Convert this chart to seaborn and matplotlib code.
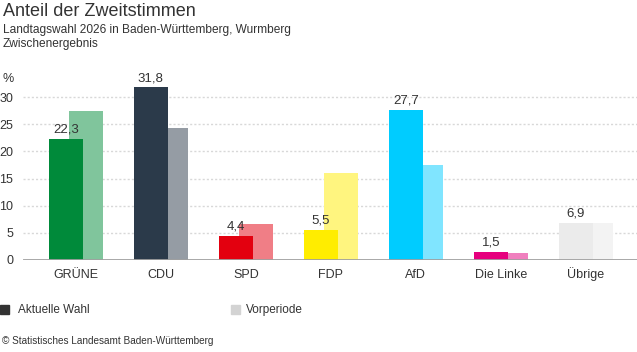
import matplotlib
matplotlib.use("Agg")
import matplotlib.pyplot as plt
import seaborn as sns
import pandas as pd

# Zweitstimmen, Wurmberg (Zwischenergebnis)
parties = ["GRÜNE", "CDU", "SPD", "FDP", "AfD", "Die Linke", "Übrige"]
current = [22.3, 31.8, 4.4, 5.5, 27.7, 1.5, 6.9]
previous = [27.4, 24.3, 6.6, 16.0, 17.5, 1.2, 6.8]

colors_current = ["#008a3a", "#2b3a4a", "#e3000f", "#ffed00", "#00ccff", "#e6007e", "#ebebeb"]
colors_previous = ["#80c59c", "#959ca4", "#f07e86", "#fff57f", "#80e5ff", "#f07fbe", "#f3f3f3"]

sns.set_style("white")
plt.rcParams["font.family"] = ["Liberation Sans", "DejaVu Sans"]

fig = plt.figure(figsize=(6.37, 3.52), dpi=100)
ax = fig.add_axes([23 / 637, 0.2614, 1 - 23 / 637, 0.509])

df_prev = pd.DataFrame({"party": parties, "value": previous})
df_cur = pd.DataFrame({"party": parties, "value": current})

shift = 0.118
width = 0.40

sns.barplot(data=df_prev, x="party", y="value", hue="party", palette=colors_previous,
            width=width, saturation=1, linewidth=0, legend=False, ax=ax, zorder=2)
n_prev = len(ax.patches)
for p in ax.patches:
    p.set_x(p.get_x() + shift)

sns.barplot(data=df_cur, x="party", y="value", hue="party", palette=colors_current,
            width=width, saturation=1, linewidth=0, legend=False, ax=ax, zorder=3)
for p in ax.patches[n_prev:]:
    p.set_x(p.get_x() - shift)
    ax.text(p.get_x() + p.get_width() / 2, p.get_height() + 0.6,
            f"{p.get_height():.1f}".replace(".", ","),
            ha="center", va="bottom", fontsize=9.5, color="#333333", zorder=4)

ax.set_xlim(-0.62, 6.6)
ax.set_ylim(0, 33)
ax.set_yticks([0, 5, 10, 15, 20, 25, 30])
ax.set_yticklabels(["0", "5", "10", "15", "20", "25", "30"])
ax.set_xlabel("")
ax.set_ylabel("")
for y in [5, 10, 15, 20, 25, 30]:
    ax.axhline(y, color="#d8d8d8", lw=1, ls=(0, (1.5, 1.5)), zorder=1)
ax.axhline(0, color="#a0a0a0", lw=2, zorder=5)
for s in ax.spines.values():
    s.set_visible(False)
ax.tick_params(axis="y", length=0, pad=7, labelsize=9, labelcolor="#333333")
ax.tick_params(axis="x", length=0, pad=13, labelsize=9, labelcolor="#333333")
for lab in ax.get_xticklabels():
    lab.set_verticalalignment("baseline")
ax.grid(False)

fig.text(3 / 637, 1 - 79 / 352, "%", fontsize=9, color="#333333", va="center", ha="left")

fig.text(3 / 637, 1 - 12 / 352, "Anteil der Zweitstimmen", fontsize=13, color="#333333",
         va="center", ha="left")
fig.text(3 / 637, 1 - 30 / 352, "Landtagswahl 2026 in Baden-Württemberg, Wurmberg",
         fontsize=8.6, color="#333333", va="center", ha="left")
fig.text(3 / 637, 1 - 44 / 352, "Zwischenergebnis", fontsize=8.6, color="#333333",
         va="center", ha="left")

# legend
fig.patches.append(plt.Rectangle((0, 1 - 314 / 352), 9 / 637, 9 / 352,
                                 transform=fig.transFigure, color="#333333"))
fig.text(18 / 637, 1 - 310 / 352, "Aktuelle Wahl", fontsize=8.5, color="#333333",
         va="center", ha="left")
fig.patches.append(plt.Rectangle((231 / 637, 1 - 314 / 352), 9 / 637, 9 / 352,
                                 transform=fig.transFigure, color="#d3d3d3"))
fig.text(246 / 637, 1 - 310 / 352, "Vorperiode", fontsize=8.5, color="#333333",
         va="center", ha="left")

fig.text(2 / 637, 1 - 341 / 352, "© Statistisches Landesamt Baden-Württemberg",
         fontsize=7.2, color="#333333", va="center", ha="left")

fig.savefig("out.png", dpi=100)
